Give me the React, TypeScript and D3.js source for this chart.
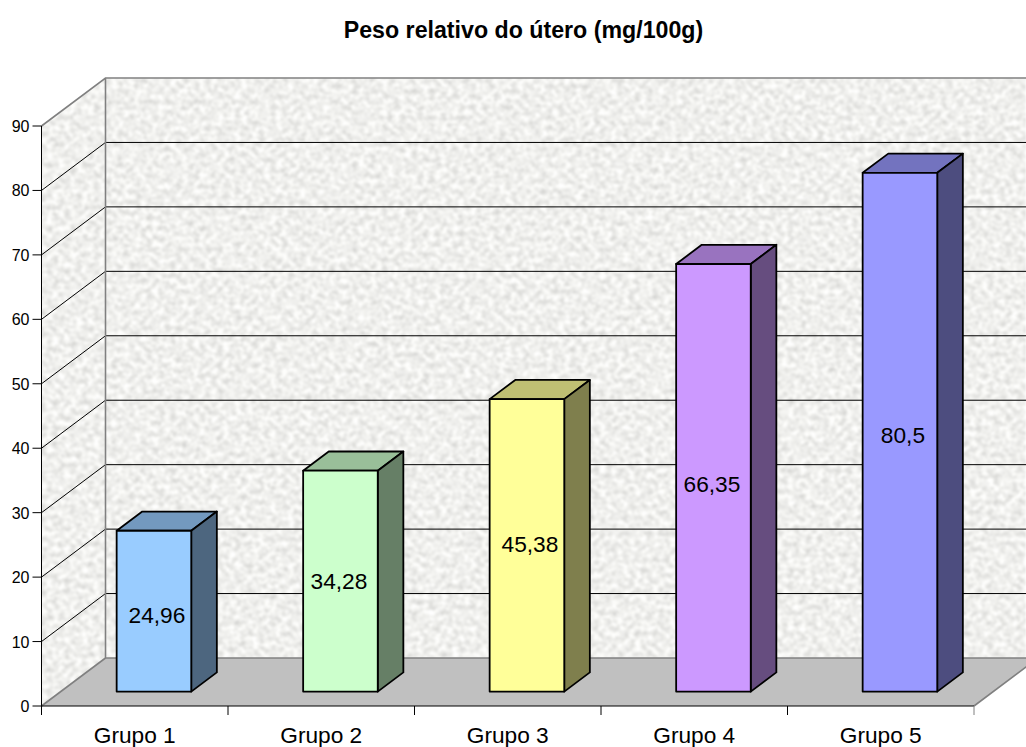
import React from "react";
import * as d3 from "d3";

const groups = ["Grupo 1", "Grupo 2", "Grupo 3", "Grupo 4", "Grupo 5"];
const values = [24.96, 34.28, 45.38, 66.35, 80.5];
const valueLabels = ["24,96", "34,28", "45,38", "66,35", "80,5"];
const frontColors = ["#99ccff", "#ccffcc", "#ffff99", "#cc99ff", "#9999ff"];
const topColors = ["#7399bf", "#99bf99", "#bfbf73", "#9973bf", "#7373bf"];
const sideColors = ["#4d667f", "#667f66", "#7f7f4d", "#664d7f", "#4d4d7f"];
const yTicks = [0, 10, 20, 30, 40, 50, 60, 70, 80, 90];
const labelNudgesX = [3, -1.5, 3, -1.5, 3];
const labelNudgesY = [11.7, 8, 6.7, 14, 11];

const WIDTH = 1026;
const HEIGHT = 747;
const FONT = "'Liberation Sans', Arial, sans-serif";

// Oblique projection of the chart box
const AXIS_LEFT = 41.5;
const AXIS_RIGHT = 974;
const AXIS_BOTTOM = 706;
const AXIS_TOP = 126;
const DEPTH_X = 64;
const DEPTH_Y = -48;

// Bars sit part of the way back in the box
const BAR_DEPTH_START = 0.3;
const BAR_DEPTH_SPAN = 0.4;

const y = d3.scaleLinear().domain([0, 90]).range([AXIS_BOTTOM, AXIS_TOP]);
const x = d3.scaleBand<string>().domain(groups).range([AXIS_LEFT, AXIS_RIGHT]).paddingInner(0).paddingOuter(0);
const barWidth = x.bandwidth() / 2.5;

const poly = (pts: [number, number][]) => d3.line()(pts) + "Z";

export default function App() {
  const backLeft = AXIS_LEFT + DEPTH_X;
  const backRight = AXIS_RIGHT + DEPTH_X;
  const dx0 = DEPTH_X * BAR_DEPTH_START;
  const dy0 = DEPTH_Y * BAR_DEPTH_START;
  const ddx = DEPTH_X * BAR_DEPTH_SPAN;
  const ddy = DEPTH_Y * BAR_DEPTH_SPAN;

  return (
    <svg
      width={WIDTH}
      height={HEIGHT}
      viewBox={`0 0 ${WIDTH} ${HEIGHT}`}
      style={{ position: "absolute", left: 0, top: 0, background: "#fff" }}
    >
      <defs>
        {/* Speckled granite fill for the walls */}
        <filter id="granite" x="0" y="0" width="100%" height="100%" colorInterpolationFilters="sRGB">
          <feTurbulence type="fractalNoise" baseFrequency="0.17 0.19" numOctaves={3} seed={7} result="n" />
          <feColorMatrix
            in="n"
            type="matrix"
            values="0.3 0 0 0 0.79  0.3 0 0 0 0.79  0.3 0 0 0 0.78  0 0 0 0 1"
          />
          <feGaussianBlur stdDeviation={0.8} />
        </filter>
        <clipPath id="backWall">
          <path d={poly([[backLeft, y(90) + DEPTH_Y], [WIDTH, y(90) + DEPTH_Y], [WIDTH, y(0) + DEPTH_Y], [backLeft, y(0) + DEPTH_Y]])} />
        </clipPath>
        <clipPath id="sideWall">
          <path d={poly([[AXIS_LEFT, y(90)], [backLeft, y(90) + DEPTH_Y], [backLeft, y(0) + DEPTH_Y], [AXIS_LEFT, y(0)]])} />
        </clipPath>
      </defs>

      <text x={523.5} y={38} textAnchor="middle" fontFamily={FONT} fontSize={23.2} fontWeight="bold" fill="#000">
        Peso relativo do útero (mg/100g)
      </text>

      {/* Walls */}
      <g clipPath="url(#backWall)">
        <rect x={backLeft} y={y(90) + DEPTH_Y} width={WIDTH - backLeft} height={y(0) - y(90)} filter="url(#granite)" />
      </g>
      <g clipPath="url(#sideWall)">
        <rect x={AXIS_LEFT} y={y(90) + DEPTH_Y} width={DEPTH_X} height={y(0) - y(90) - DEPTH_Y} filter="url(#granite)" />
      </g>

      {/* Floor */}
      <path
        d={poly([[AXIS_LEFT, y(0)], [AXIS_RIGHT, y(0)], [backRight, y(0) + DEPTH_Y], [backLeft, y(0) + DEPTH_Y]])}
        fill="#c0c0c0"
      />

      {/* Gridlines across the side and back walls */}
      {yTicks.slice(1, -1).map((t) => (
        <path
          key={t}
          d={`M${AXIS_LEFT},${y(t)}L${backLeft},${y(t) + DEPTH_Y}L${WIDTH},${y(t) + DEPTH_Y}`}
          fill="none"
          stroke="#000"
          strokeWidth={1}
        />
      ))}

      {/* Wall outline */}
      <path
        d={`M${AXIS_LEFT},${y(90)}L${backLeft},${y(90) + DEPTH_Y}L${WIDTH},${y(90) + DEPTH_Y}M${backLeft},${y(90) + DEPTH_Y}L${backLeft},${y(0) + DEPTH_Y}L${WIDTH},${y(0) + DEPTH_Y}M${AXIS_LEFT},${y(0)}L${backLeft},${y(0) + DEPTH_Y}M${AXIS_RIGHT},${y(0)}L${backRight},${y(0) + DEPTH_Y}`}
        fill="none"
        stroke="#808080"
        strokeWidth={1.6}
      />

      {/* Axes */}
      <line x1={AXIS_LEFT} x2={AXIS_LEFT} y1={y(90)} y2={y(0)} stroke="#000" strokeWidth={1} />
      <line x1={AXIS_LEFT} x2={AXIS_RIGHT} y1={y(0)} y2={y(0)} stroke="#000" strokeWidth={1} />
      {yTicks.map((t) => (
        <g key={t}>
          <line x1={AXIS_LEFT - 9} x2={AXIS_LEFT} y1={y(t)} y2={y(t)} stroke="#000" strokeWidth={1} />
          <text x={29.5} y={y(t) + 6} textAnchor="end" fontFamily={FONT} fontSize={16} fill="#000">
            {t}
          </text>
        </g>
      ))}
      {[...groups.map((g) => x(g) as number), AXIS_RIGHT].map((tx, i) => (
        <line key={i} x1={tx} x2={tx} y1={y(0)} y2={y(0) + 9} stroke={i === groups.length ? "#808080" : "#000"} strokeWidth={1} />
      ))}
      {groups.map((g) => (
        <text
          key={g}
          x={(x(g) as number) + x.bandwidth() / 2}
          y={743}
          textAnchor="middle"
          fontFamily={FONT}
          fontSize={22.7}
          fill="#000"
        >
          {g}
        </text>
      ))}

      {/* Bars */}
      {groups.map((g, i) => {
        const left = (x(g) as number) + (x.bandwidth() - barWidth) / 2 + dx0;
        const right = left + barWidth;
        const base = y(0) + dy0;
        const top = y(values[i]) + dy0;
        return (
          <g key={g} stroke="#000" strokeWidth={1.8} strokeLinejoin="round">
            <path d={poly([[left, top], [right, top], [right + ddx, top + ddy], [left + ddx, top + ddy]])} fill={topColors[i]} />
            <path d={poly([[right, top], [right + ddx, top + ddy], [right + ddx, base + ddy], [right, base]])} fill={sideColors[i]} />
            <rect x={left} y={top} width={barWidth} height={base - top} fill={frontColors[i]} />
            <text
              x={(left + right) / 2 + labelNudgesX[i]}
              y={(top + base) / 2 + labelNudgesY[i]}
              textAnchor="middle"
              fontFamily={FONT}
              fontSize={22.7}
              fill="#000"
              stroke="none"
            >
              {valueLabels[i]}
            </text>
          </g>
        );
      })}
    </svg>
  );
}
